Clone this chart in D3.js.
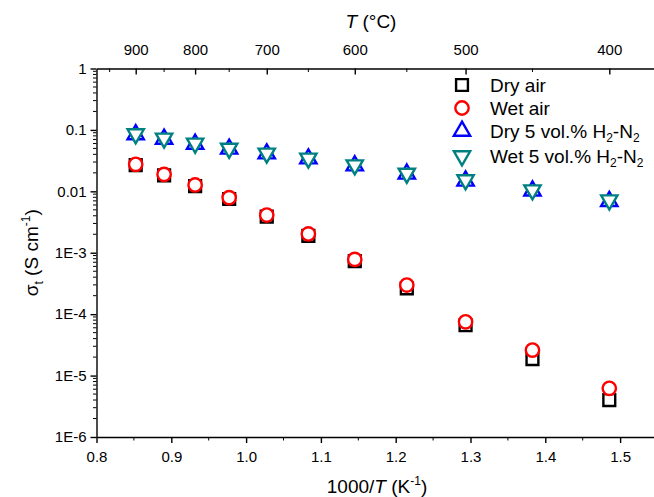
<!DOCTYPE html>
<html>
<head>
<meta charset="utf-8">
<script src="https://cdn.jsdelivr.net/npm/d3@7"></script>
<style>
body { margin: 0; background: #fff; }
text { font-family: "Liberation Sans", Arial, sans-serif; fill: #000; }
</style>
</head>
<body>
<svg></svg>
<script>
const width = 654
const height = 497

// measurement temperatures (°C), plotted as 1000/T (K^-1)
const tempsC = [900, 850, 800, 750, 700, 650, 600, 550, 500, 450, 400]
const dryAir = [0.0268, 0.0182, 0.0122, 0.0075, 0.00386, 0.00189, 7.3e-4, 2.63e-4, 6.6e-5, 1.86e-5, 4.0e-6]
const wetAir = [0.0275, 0.0189, 0.0127, 0.0079, 0.00411, 0.00202, 7.8e-4, 2.98e-4, 7.5e-5, 2.6e-5, 6.2e-6]
const dryH2 = [0.084, 0.071, 0.059, 0.049, 0.041, 0.034, 0.0262, 0.0192, 0.0148, 0.0102, 0.0069]
const wetH2 = [0.086, 0.073, 0.0605, 0.050, 0.0416, 0.0345, 0.0268, 0.0196, 0.0153, 0.0105, 0.0072]

const xTicks = [0.8, 0.9, 1.0, 1.1, 1.2, 1.3, 1.4, 1.5]
const xMinor = [0.85, 0.95, 1.05, 1.15, 1.25, 1.35, 1.45]
const topMajor = [900, 800, 700, 600, 500, 400]
const topMinor = [950, 850, 750, 650, 550, 450]
const yTicks = [1, 0.1, 0.01, 1e-3, 1e-4, 1e-5, 1e-6]
const yLabels = ["1", "0.1", "0.01", "1E-3", "1E-4", "1E-5", "1E-6"]

const inv = t => 1000 / (t + 273.15)

const svg = d3.select('svg')
  .attr('width', width)
  .attr('height', height)

const x = d3.scaleLinear().domain([0.8, 1.55]).range([96.5, 657.5])
const y = d3.scaleLog().domain([1e-6, 1]).range([437, 68.5])

// bottom axis
const gx = svg.append('g')
  .attr('transform', `translate(0,${y.range()[0]})`)
  .call(d3.axisBottom(x).tickValues(xTicks).tickFormat(d3.format('.1f'))
    .tickSize(6).tickSizeOuter(0).tickPadding(8))
gx.selectAll('.tick text').style('font-size', '15px').attr('dy', '0.72em')
gx.append('g').selectAll('line').data(xMinor).join('line')
  .attr('x1', d => x(d)).attr('x2', d => x(d))
  .attr('y1', 0).attr('y2', 3.5).attr('stroke', '#000')

// top axis (temperature in °C), ticks pointing inward
const gt = svg.append('g')
  .attr('transform', `translate(0,${y.range()[1]})`)
  .call(d3.axisTop(x).tickValues(topMajor.map(inv)).tickFormat((d, i) => topMajor[i])
    .tickSizeInner(-6).tickSizeOuter(0).tickPadding(14))
gt.selectAll('.tick text').style('font-size', '15px')
gt.append('g').selectAll('line').data(topMinor).join('line')
  .attr('x1', d => x(inv(d))).attr('x2', d => x(inv(d)))
  .attr('y1', 0).attr('y2', 3.5).attr('stroke', '#000')

// left axis (log)
const gy = svg.append('g')
  .attr('transform', `translate(${x.range()[0]},0)`)
  .call(d3.axisLeft(y).tickValues(yTicks).tickFormat((d, i) => yLabels[i])
    .tickSize(6).tickSizeOuter(0).tickPadding(4))
gy.selectAll('.tick text').style('font-size', '15px')
const yMinor = []
yTicks.slice(1).forEach(d => { for (let m = 2; m <= 9; m++) yMinor.push(d * m) })
gy.append('g').selectAll('line').data(yMinor).join('line')
  .attr('y1', d => y(d)).attr('y2', d => y(d))
  .attr('x1', 0).attr('x2', -3.5).attr('stroke', '#000')

svg.selectAll('.domain, .tick line').attr('stroke', '#000').attr('stroke-width', 1.4)

// axis titles
const midX = (x.range()[0] + x.range()[1]) / 2
const midY = (y.range()[0] + y.range()[1]) / 2

const tTop = svg.append('text').attr('x', midX - 6).attr('y', 28)
  .attr('text-anchor', 'middle').style('font-size', '19px')
tTop.append('tspan').style('font-style', 'italic').text('T')
tTop.append('tspan').text(' (°C)')

const tBot = svg.append('text').attr('x', midX).attr('y', 493)
  .attr('text-anchor', 'middle').style('font-size', '19px')
tBot.append('tspan').text('1000/')
tBot.append('tspan').style('font-style', 'italic').text('T')
tBot.append('tspan').text(' (K')
tBot.append('tspan').attr('dy', -8).style('font-size', '12px').text('-1')
tBot.append('tspan').attr('dy', 8).text(')')

const tLeft = svg.append('text')
  .attr('transform', `translate(38,${midY}) rotate(-90)`)
  .attr('text-anchor', 'middle').style('font-size', '19px')
tLeft.append('tspan').text('σ')
tLeft.append('tspan').attr('dy', 5).style('font-size', '12px').text('t')
tLeft.append('tspan').attr('dy', -5).text(' (S cm')
tLeft.append('tspan').attr('dy', -8).style('font-size', '12px').text('-1')
tLeft.append('tspan').attr('dy', 8).text(')')

// series
const series = [
  { name: 'Dry air', values: dryAir, color: '#000000', shape: d3.symbolSquare, size: 140, rot: 0 },
  { name: 'Wet air', values: wetAir, color: '#ff0000', shape: d3.symbolCircle, size: 140, rot: 0 },
  { name: 'Dry 5 vol.% H2-N2', values: dryH2, color: '#0000ff', shape: d3.symbolTriangle, size: 115, rot: 0 },
  { name: 'Wet 5 vol.% H2-N2', values: wetH2, color: '#008080', shape: d3.symbolTriangle, size: 115, rot: 180 }
]

series.forEach(s => {
  svg.append('g').selectAll('path')
    .data(s.values)
    .join('path')
    .attr('d', d3.symbol().type(s.shape).size(s.size))
    .attr('transform', (d, i) => `translate(${x(inv(tempsC[i]))},${y(d)}) rotate(${s.rot})`)
    .attr('fill', '#fff')
    .attr('stroke', s.color)
    .attr('stroke-width', 2.4)
})

// legend
const legendY = [85, 108, 131, 156]
const legend = svg.append('g')
series.forEach((s, i) => {
  legend.append('path')
    .attr('d', d3.symbol().type(s.shape).size(s.size))
    .attr('transform', `translate(462,${legendY[i]}) rotate(${s.rot})`)
    .attr('fill', '#fff')
    .attr('stroke', s.color)
    .attr('stroke-width', 2.4)
  const t = legend.append('text').attr('x', 490).attr('y', legendY[i] + 7)
    .style('font-size', '19px')
  if (i < 2) {
    t.text(s.name)
  } else {
    const head = s.name.split(' H2')[0]
    t.append('tspan').text(head + ' H')
    t.append('tspan').attr('dy', 4).style('font-size', '12px').text('2')
    t.append('tspan').attr('dy', -4).text('-N')
    t.append('tspan').attr('dy', 4).style('font-size', '12px').text('2')
  }
})
</script>
</body>
</html>
